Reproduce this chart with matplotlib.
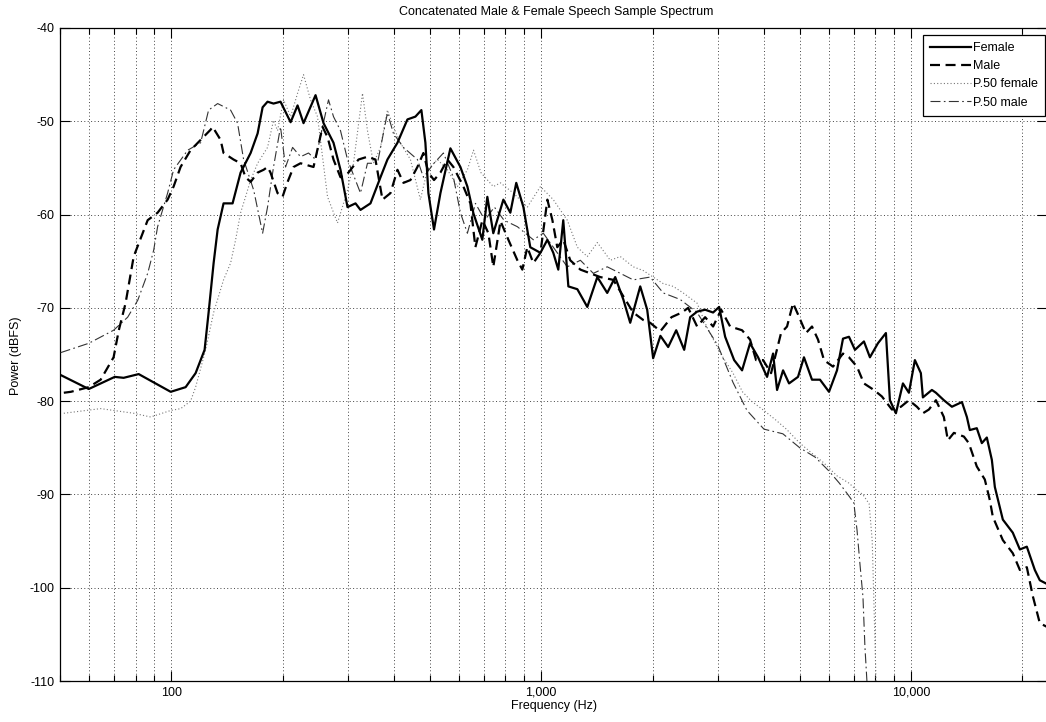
import matplotlib
matplotlib.use("Agg")
import matplotlib.pyplot as plt
from matplotlib.ticker import LogLocator, FuncFormatter, NullFormatter, MultipleLocator

plt.rcParams['font.family'] = ['Liberation Sans', 'DejaVu Sans']
plt.rcParams['axes.unicode_minus'] = False

# ---------------- data (Hz, dBFS) ----------------
female_f = [50.2, 59.8, 70.3, 74.3, 81.6, 99.6, 109.3, 116.3, 123, 126.1, 130.1, 133.4, 138.4, 146.4,
            153.9, 163.8, 171.1, 176.5, 182, 188.9, 197.3, 210.1, 219.4, 227.7, 245.4, 257.9, 274.4,
            286.6, 299.4, 314.7, 324.6, 345.4, 367.6, 383.9, 408.6, 434.8, 456.9, 474.2, 486.2, 495.4,
            513, 533.9, 568.1, 604.6, 631.5, 656, 693, 715, 742, 790, 825, 856, 895, 934, 995, 1039,
            1078, 1112, 1147, 1184, 1252, 1332, 1418, 1508, 1585, 1667, 1740, 1852, 1934, 2007, 2100,
            2204, 2317, 2435, 2527, 2639, 2774, 2915, 3027, 3142, 3323, 3491, 3669, 3857, 4079, 4234,
            4341, 4506, 4677, 4945, 5132, 5395, 5671, 5998, 6304, 6544, 6792, 7050, 7455, 7738, 8132,
            8548, 8763, 9097, 9503, 9863, 10237, 10626, 10760, 11380, 11670, 12260, 12890, 13720,
            14150, 14410, 15050, 15530, 16020, 16530, 16840, 17700, 18830, 19680, 20550, 21600, 22280,
            23300]
female_db = [-77.2, -78.7, -77.4, -77.5, -77.1, -79.0, -78.5, -77.0, -74.5, -70.5, -65.2, -61.6, -58.8, -58.8,
             -55.5, -53.4, -51.3, -48.5, -47.9, -48.1, -47.9, -50.1, -48.3, -50.2, -47.2, -50.2, -52.3,
             -55.2, -59.2, -58.8, -59.5, -58.8, -56.0, -54.1, -52.3, -49.8, -49.5, -48.8, -52.3, -57.7,
             -61.6, -57.7, -52.9, -54.9, -57.0, -59.9, -62.7, -58.1, -62.0, -58.4, -59.8, -56.6, -59.2, -63.5, -64.1, -62.7,
             -64.1, -65.9, -60.6, -67.7, -68.0, -69.9, -66.7, -68.4, -66.7, -69.1, -71.6, -67.7, -70.2, -75.4, -73.0,
             -74.2, -72.4, -74.5, -71.0, -70.4, -70.2, -70.5, -69.9, -73.1, -75.6, -76.7, -73.8, -75.3, -77.4, -74.9,
             -78.8, -76.7, -78.1, -77.4, -75.3, -77.7, -77.7, -79.0, -76.7, -73.3, -73.1, -74.5, -73.6, -75.3, -73.8,
             -72.7, -79.9, -81.3, -78.1, -79.1, -75.6, -77.0, -79.6, -78.8, -79.1, -79.9, -80.6, -80.1,
             -81.7, -83.1, -82.9, -84.5, -83.9, -86.3, -89.2, -92.7, -94.1, -95.9, -95.6, -98.1, -99.2,
             -99.6]

male_f = [51.2, 53.5, 59.8, 64.4, 69.8, 72.1, 75.2, 79.1, 86.3, 91.8, 97.7, 101.4, 105.9, 112.7, 120,
          127.7, 129.3, 135.9, 138.4, 147.3, 153.9, 158.7, 163.8, 171.1, 177.6, 182, 185.4, 193.7, 199.8,
          206.2, 214, 223.5, 242.3, 256.3, 264.4, 274.4, 286.6, 301.2, 320.6, 339, 356.3, 372.2, 391.2,
          408.6, 424.1, 443, 462.6, 480.2, 495.4, 513, 533.9, 557.6, 578.8, 616, 643.4, 663.7, 693.4,
          719.7, 742, 776, 815, 862, 889, 917, 952, 995, 1039, 1072, 1105, 1147, 1198, 1276, 1357, 1444,
          1566, 1687, 1773, 1887, 1970, 2100, 2250, 2400, 2496, 2639, 2774, 2915, 3065, 3241, 3491, 3669,
          3809, 3979, 4182, 4287, 4450, 4619, 4794, 4945, 5196, 5395, 5601, 5814, 6149, 6544, 6792, 7138,
          7455, 7932, 8337, 8873, 9385, 9863, 10366, 10760, 11170, 11670, 12260, 12570, 13050, 13890,
          14320, 15050, 15820, 16320, 16630, 17700, 18830, 19680, 20550, 21330, 22280, 23300]
male_db = [-79.1, -79.0, -78.5, -77.7, -75.3, -72.4, -69.5, -64.5, -60.6, -59.8, -58.4, -57.0, -54.9, -53.1, -52.0,
           -50.9, -50.6, -52.0, -53.4, -54.1, -54.5, -56.0, -56.5, -55.5, -55.2, -54.9, -55.5, -57.7, -58.1,
           -56.5, -54.9, -54.5, -54.9, -50.6, -51.7, -54.1, -56.0, -55.5, -54.1, -53.8, -54.1, -58.4, -57.7,
           -55.2, -56.6, -56.3, -54.9, -53.4, -55.5, -56.3, -55.5, -54.1, -54.9, -57.0, -58.8, -63.5, -60.6,
           -62.0, -65.6, -60.7, -62.7, -64.9, -65.9, -63.5, -65.2, -64.1, -58.4, -60.6, -63.5, -62.7, -64.9, -65.9, -66.3, -66.7,
           -67.0, -69.1, -70.5, -71.3, -71.6, -72.5, -71.0, -70.5, -70.0, -72.0, -71.0, -72.0, -70.2, -72.0, -72.4, -73.4,
           -75.6, -75.6, -77.0, -75.3, -72.7, -72.0, -69.5, -70.7, -72.7, -72.0, -73.4, -75.6, -76.3, -74.9, -75.3, -76.3,
           -78.1, -78.8, -79.5, -80.9, -80.6, -79.9, -80.6, -81.3, -80.9, -79.9, -81.7, -84.2, -83.4, -83.8,
           -84.5, -87.0, -88.4, -90.6, -92.4, -94.9, -96.3, -98.1, -97.8, -100.9, -103.8, -104.2]

p50f_f = [51.2, 64.4, 79.1, 87.9, 99.6, 106, 112.7, 116.3, 120, 123.8, 130.1, 138.4, 144.6, 149.2,
          153.9, 158.7, 163.8, 171.1, 182, 188.9, 193.7, 201.1, 210.1, 219.4, 227.7, 237.8, 248.4,
          264.4, 281.3, 299.4, 310.8, 328.7, 339, 351.9, 367.6, 383.9, 398.5, 416, 443, 471.3, 492.3,
          524, 557.6, 593.4, 631.5, 656, 687, 742, 776, 841, 917, 995, 1078, 1176, 1252, 1332, 1418,
          1537, 1636, 1773, 1887, 2007, 2137, 2274, 2420, 2639, 2800, 3065, 3300, 3500, 3700, 4000,
          4300, 4600, 5000, 5400, 5800, 6300, 6800, 7100, 7400, 7700, 7850, 7950, 8050]
p50f_db = [-81.3, -80.8, -81.3, -81.7, -81.0, -80.8, -80.0, -78.5, -76.5, -74.5, -70.5, -67.0, -65.2, -62.7,
           -59.8, -58.1, -56.3, -54.5, -52.8, -49.9, -51.0, -47.7, -49.5, -47.0, -45.0, -47.7, -49.5,
           -58.1, -60.9, -57.4, -54.5, -47.0, -51.0, -54.5, -52.8, -48.8, -50.6, -52.3, -54.1, -58.4, -55.2,
           -54.1, -55.2, -57.0, -55.2, -53.1, -55.5, -57.0, -56.6, -57.7, -59.2, -57.0, -58.4, -60.6, -63.5, -64.5, -63.0,
           -64.9, -64.5, -65.6, -66.0, -66.7, -67.4, -67.7, -68.4, -69.5, -72.0, -75.0, -77.0, -79.0, -80.0, -81.0,
           -82.0, -83.0, -84.5, -85.6, -86.6, -88.0, -88.8, -89.5, -90.0, -91.0, -95.0, -103.0, -111.0]

p50m_f = [50.2, 59.8, 69.8, 76.2, 81.1, 86.3, 89.6, 91.8, 97.7, 101.4, 110.7, 120, 126.1, 133.4,
          144.6, 151, 156.8, 167, 176.5, 182, 188.9, 197.3, 203.6, 212.7, 223.5, 234.9, 245.4, 256.3,
          266, 274.4, 286.6, 299.4, 324.6, 339, 360.8, 383.9, 398.5, 424.1, 462.6, 480.2, 513, 543.9,
          578.8, 604.6, 631.5, 664, 704, 747, 793, 862, 952, 1013, 1078, 1176, 1276, 1383, 1508, 1636,
          1773, 1970, 2137, 2375, 2639, 3000, 3300, 3600, 4000, 4500, 5000, 5500, 6000, 6400, 6800,
          7000, 7140, 7270, 7410, 7500, 7620]
p50m_db = [-74.8, -73.8, -72.4, -71.0, -69.2, -66.3, -63.8, -61.3, -57.7, -55.2, -53.1, -52.3, -48.8, -48.1,
           -48.8, -50.2, -54.1, -57.4, -62.0, -59.2, -54.9, -50.6, -54.9, -52.8, -53.8, -53.4, -54.1, -50.6,
           -47.7, -49.5, -51.0, -54.1, -57.7, -54.5, -54.5, -49.1, -51.3, -52.8, -54.1, -56.0, -54.5, -53.4,
           -56.0, -59.8, -62.0, -58.8, -60.6, -59.2, -60.6, -61.3, -62.7, -62.0, -63.5, -65.6, -64.9, -66.3, -65.6, -66.3,
           -67.0, -66.7, -68.4, -69.1, -70.5, -74.0, -78.0, -81.0, -83.0, -83.5, -85.0, -86.0, -87.5, -88.8, -90.2,
           -90.9, -93.8, -97.4, -101.0, -106.3, -111.0]

x_limits = (50, 23300)
y_limits = (-110, -40)

# ---------------- figure ----------------
W, H = 1046, 722
fig = plt.figure(figsize=(W / 100, H / 100), dpi=100)
ax = fig.add_axes([60 / W, 1 - 681 / H, (1047 - 60) / W, (681 - 28) / H])

ax.plot(female_f, female_db, color='black', lw=1.6, solid_joinstyle='round', label='Female', zorder=5)
ax.plot(male_f, male_db, color='black', lw=1.6, dashes=(4.5, 2.5), label='Male', zorder=4)
ax.plot(p50f_f, p50f_db, color='#777777', lw=0.8, dashes=(1, 2), label='P.50 female', zorder=3)
ax.plot(p50m_f, p50m_db, color='#333333', lw=0.8, dashes=(9, 3, 1.5, 3), label='P.50 male', zorder=3)

ax.set_xscale('log')
ax.set_xlim(*x_limits)
ax.set_ylim(*y_limits)
ax.yaxis.set_major_locator(MultipleLocator(10))
ax.xaxis.set_major_locator(LogLocator(base=10))
ax.xaxis.set_minor_locator(LogLocator(base=10, subs=range(2, 10)))
ax.xaxis.set_major_formatter(FuncFormatter(lambda v, p: f"{v:,.0f}"))
ax.xaxis.set_minor_formatter(NullFormatter())

ax.grid(True, which='both', axis='x', color='#444444', lw=0.7, dashes=(1, 2.5))
ax.grid(True, which='major', axis='y', color='#444444', lw=0.7, dashes=(1, 2.5))
ax.set_axisbelow(True)

ax.tick_params(which='major', direction='in', length=7, width=0.8, top=True, right=True,
               labelsize=9, pad=4)
ax.tick_params(which='minor', direction='in', length=4.5, width=0.8, top=True, right=True)
for s in ax.spines.values():
    s.set_linewidth(0.9)

fig.text(556 / W, 1 - 12 / H, 'Concatenated Male & Female Speech Sample Spectrum',
         ha='center', va='center', fontsize=9)
fig.text(554 / W, 1 - 706 / H, 'Frequency (Hz)', ha='center', va='center', fontsize=9)
fig.text(16 / W, 1 - 356 / H, 'Power (dBFS)', ha='center', va='center', fontsize=9, rotation=90)

leg = ax.legend(loc='upper right', bbox_to_anchor=(1045 / W, 1 - 35 / H),
                bbox_transform=fig.transFigure, fontsize=9, frameon=True, fancybox=False,
                edgecolor='black', framealpha=1, borderaxespad=0, borderpad=0.55,
                handlelength=3.3, handletextpad=0.2, labelspacing=0.5)
leg.get_frame().set_linewidth(0.9)

fig.savefig('out.png', dpi=100)
